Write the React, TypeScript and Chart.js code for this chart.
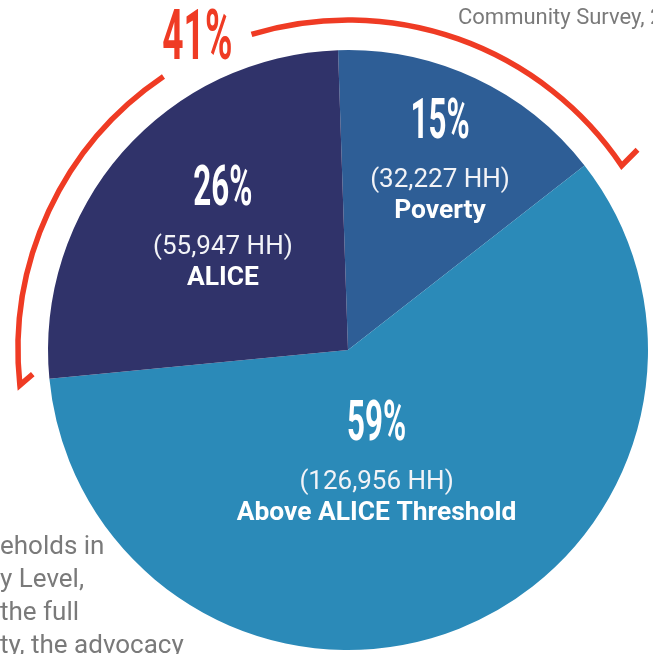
import { useEffect, useRef } from "react";
import { Chart, registerables } from "chart.js";

Chart.register(...registerables);

// ---- data ----
const categories = ["Poverty", "Above ALICE Threshold", "ALICE"];
const households = [32227, 126956, 55947];
const percentLabels = ["15%", "59%", "26%"];
const householdLabels = ["(32,227 HH)", "(126,956 HH)", "(55,947 HH)"];
const bracketLabel = "41%";
const sourceFragment = "Community Survey, 2";
const noteLines = ["eholds in", "y Level,", "the full", "ty, the advocacy"];

// ---- styles ----
const sliceColors = ["#2E5E96", "#2B8AB8", "#30336A"];
const labelRadius = [0.65, 0.445, 0.545];
const labelAngleOffset = [3.1, 9.4, -1.2];
const RED = "#EF3B24";
const GRAY = "#7A7A7A";
const deg = Math.PI / 180;

function condensedText(ctx: CanvasRenderingContext2D, text: string, x: number, y: number, size: number, sx: number, color: string) {
  ctx.save();
  ctx.translate(x, y);
  ctx.scale(sx, 1);
  ctx.font = `bold ${size}px Roboto`;
  ctx.fillStyle = color;
  ctx.textAlign = "center";
  ctx.textBaseline = "alphabetic";
  ctx.fillText(text, 0, 0);
  ctx.restore();
}

const labelPlugin = {
  id: "sliceLabels",
  afterDatasetsDraw(chart: any) {
    const ctx: CanvasRenderingContext2D = chart.ctx;
    const meta = chart.getDatasetMeta(0);
    meta.data.forEach((arc: any, i: number) => {
      const { x, y, startAngle, endAngle, outerRadius } = arc.getProps(
        ["x", "y", "startAngle", "endAngle", "outerRadius"],
        true
      );
      const mid = (startAngle + endAngle) / 2 + labelAngleOffset[i] * deg;
      const r = outerRadius * labelRadius[i];
      const lx = x + Math.cos(mid) * r;
      const ly = y + Math.sin(mid) * r;
      condensedText(ctx, percentLabels[i], lx, ly - 40, 56, 0.56, "#FFFFFF");
      ctx.save();
      ctx.textAlign = "center";
      ctx.textBaseline = "alphabetic";
      ctx.fillStyle = "#F2F3F7";
      ctx.font = "26px Roboto";
      ctx.fillText(householdLabels[i], lx, ly + 9);
      ctx.fillStyle = "#FFFFFF";
      ctx.font = "bold 26.4px Roboto";
      ctx.fillText(categories[i], lx, ly + 40);
      ctx.restore();
    });
  },
};

const bracketPlugin = {
  id: "bracket",
  afterDraw(chart: any) {
    const ctx: CanvasRenderingContext2D = chart.ctx;
    const meta = chart.getDatasetMeta(0);
    const pov = meta.data[0];
    const alice = meta.data[2];
    const { x, y, outerRadius } = pov;
    const R = outerRadius + 30;
    const a0 = alice.startAngle - 0.6 * deg;
    const a1 = pov.endAngle + 4 * deg + 2 * Math.PI;
    const gapStart = (326 - 90) * deg;
    const gapEnd = (343 - 90) * deg;
    const pt = (a: number, rr: number) => [x + Math.cos(a) * rr, y + Math.sin(a) * rr];
    const tick = (a: number, out: number, along: number) => {
      const [px, py] = pt(a, R);
      const ux = Math.cos(a), uy = Math.sin(a);
      const tx = -Math.sin(a), ty = Math.cos(a);
      return [px + ux * out + tx * along, py + uy * out + ty * along];
    };
    ctx.save();
    ctx.strokeStyle = RED;
    ctx.lineWidth = 5.5;
    ctx.lineJoin = "miter";
    ctx.lineCap = "butt";
    // left piece
    const [l0x, l0y] = tick(a0, -14, 9.6);
    const [lcx, lcy] = pt(a0, R);
    ctx.beginPath();
    ctx.moveTo(l0x, l0y);
    ctx.lineTo(lcx, lcy);
    ctx.arc(x, y, R, a0, gapStart, false);
    ctx.stroke();
    // right piece
    const [r0x, r0y] = tick(a1, 22, -4.3);
    ctx.beginPath();
    ctx.arc(x, y, R, gapEnd, a1, false);
    ctx.lineTo(r0x, r0y);
    ctx.stroke();
    ctx.restore();
    // label in gap
    const gm = (gapStart + gapEnd) / 2;
    const [tx, ty] = pt(gm, R + 20);
    condensedText(ctx, bracketLabel, tx, ty + 25, 70, 0.53, RED);

    // gray surrounding text fragments
    ctx.save();
    ctx.fillStyle = GRAY;
    ctx.textAlign = "left";
    ctx.textBaseline = "alphabetic";
    ctx.font = "22px Roboto";
    ctx.fillText(sourceFragment, 458, 24);
    ctx.font = "26px Roboto";
    noteLines.forEach((line, i) => {
      ctx.fillText(line, 0, 554 + i * 33);
    });
    ctx.restore();
  },
};

export default function App() {
  const ref = useRef<HTMLCanvasElement>(null);
  useEffect(() => {
    const chart = new Chart(ref.current as HTMLCanvasElement, {
      type: "pie",
      data: {
        labels: categories,
        datasets: [
          {
            data: households,
            backgroundColor: sliceColors,
            borderWidth: 0,
          },
        ],
      },
      options: {
        responsive: false,
        animation: false,
        rotation: -1.9,
        events: [],
        layout: { padding: { left: 48, top: 50, right: 5, bottom: 4 } },
        plugins: {
          legend: { display: false },
          tooltip: { enabled: false },
        },
      },
      plugins: [labelPlugin, bracketPlugin],
    });
    return () => chart.destroy();
  }, []);
  return (
    <div
      style={{
        position: "absolute",
        left: 0,
        top: 0,
        width: 653,
        height: 654,
        overflow: "hidden",
        background: "#FFFFFF",
      }}
    >
      <canvas ref={ref} width={653} height={654} style={{ display: "block", width: 653, height: 654 }} />
    </div>
  );
}
